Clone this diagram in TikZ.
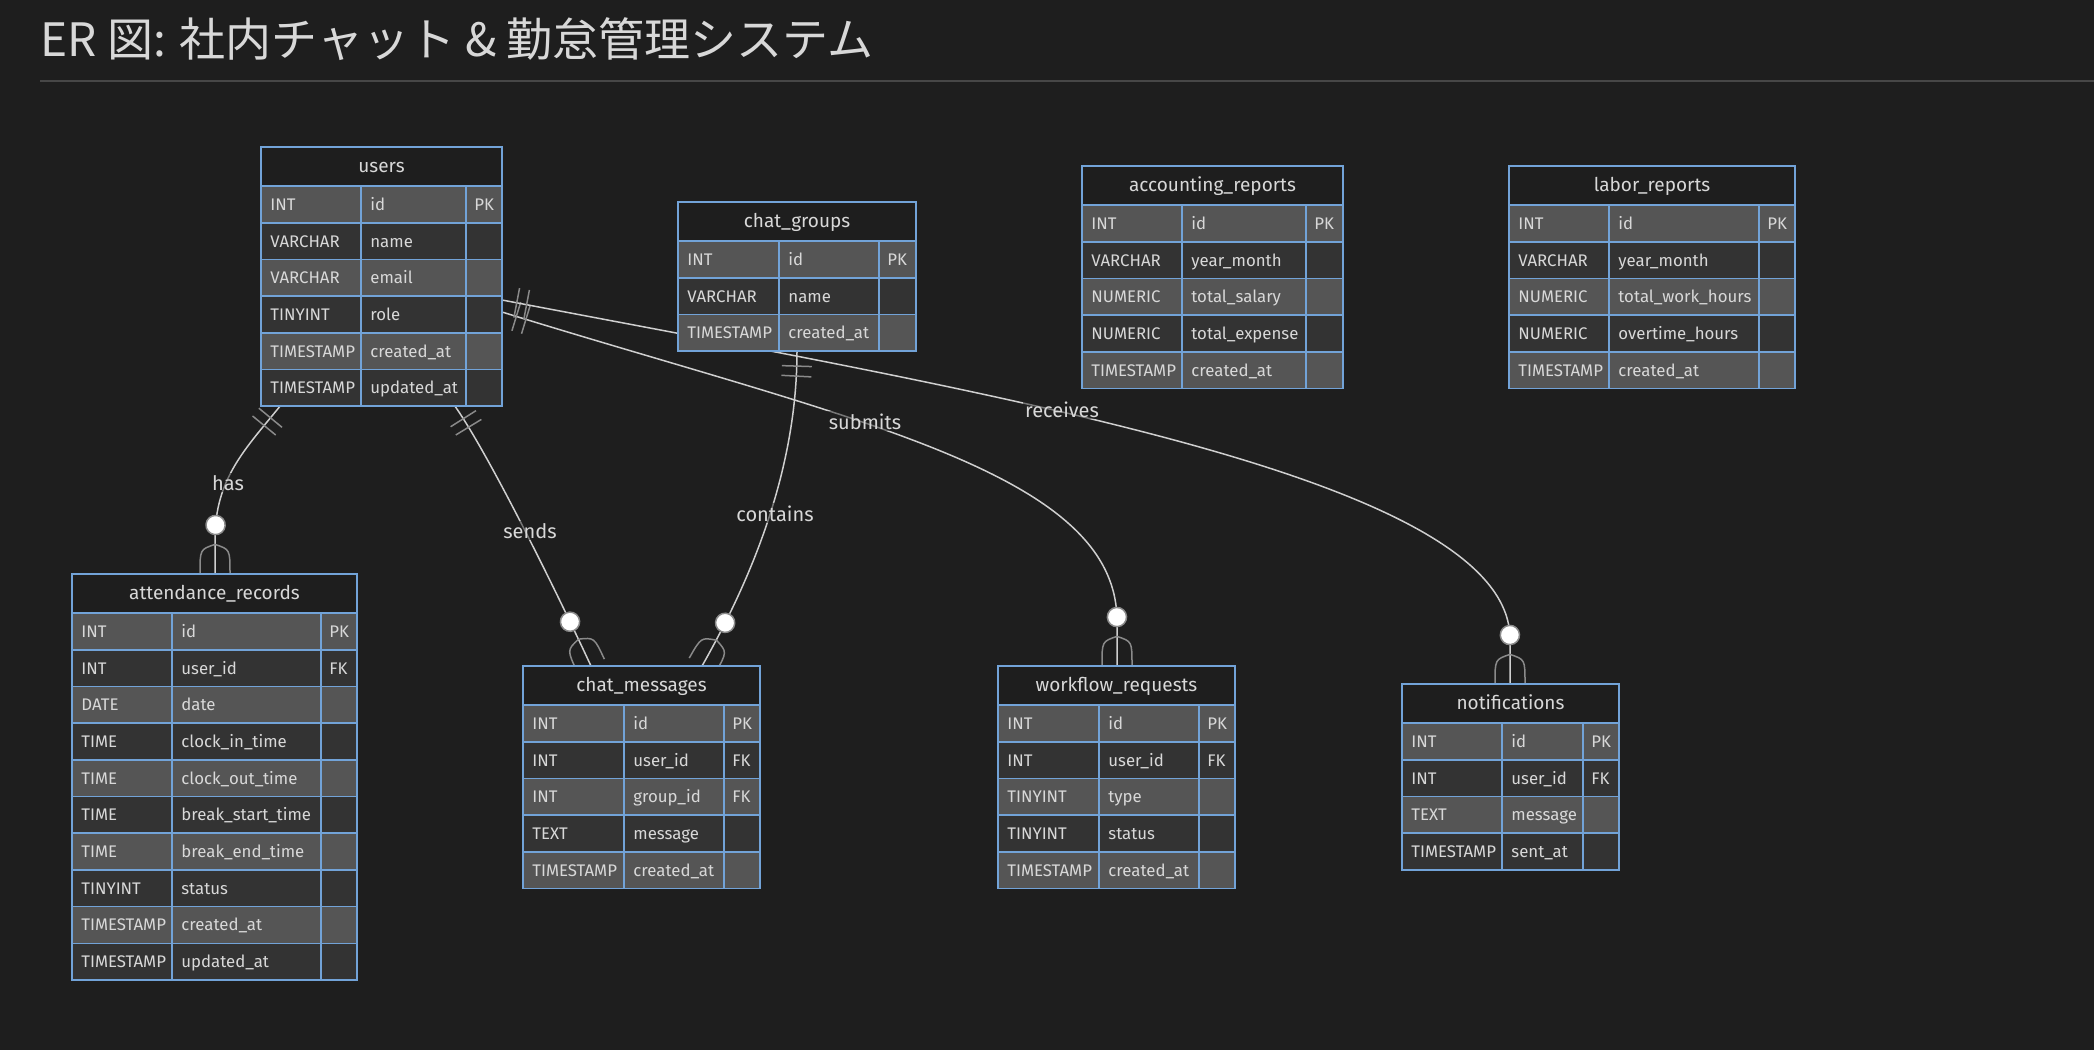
\documentclass[tikz,border=0pt]{standalone}
\usepackage{fontspec}
\setmainfont{Fira Sans}
\newfontfamily\jpfont{Noto Sans CJK JP}
\usetikzlibrary{decorations.markings,calc}
\definecolor{bgc}{HTML}{1E1E1E}
\definecolor{rowlight}{HTML}{555555}
\definecolor{rowdark}{HTML}{333333}
\definecolor{bordc}{HTML}{72A3D8}
\definecolor{txtc}{HTML}{D8D8D8}
\definecolor{linec}{HTML}{CFCFCF}
\definecolor{markc}{HTML}{8A8A8A}
\definecolor{rulec}{HTML}{474747}
\pgfdeclarelayer{back}
\pgfdeclarelayer{edges}
\pgfsetlayers{back,edges,main}
\newcount\cellno
\newcommand\settable[5]{\def\cx{#1}\def\ca{#2}\def\cb{#3}\def\cw{#4}\def\cy{#5}}
\newcommand\ertable[3]{%
  \node[tblbox, minimum width={(\cw-\cx)*0.5pt}, minimum height={(39+#2*36.7)*0.5pt}]
    (#1) at ({(\cx+\cw)/2},{\cy+(39+#2*36.7)/2}) {};
  \filldraw[hdr] (\cx,\cy) rectangle (\cw,\cy+39);
  \node[hdrtext] (#1-title) at ({(\cx+\cw)/2},\cy+25.5) {#3};
}
\newcommand\erow[4]{%
  \ifodd#1\relax\tikzset{rowcur/.style={rowA}}\else\tikzset{rowcur/.style={rowB}}\fi
  \filldraw[rowcur] (\cx,{\cy+39+(#1-1)*36.7}) rectangle (\ca,{\cy+39+#1*36.7});
  \filldraw[rowcur] (\ca,{\cy+39+(#1-1)*36.7}) rectangle (\cb,{\cy+39+#1*36.7});
  \filldraw[rowcur] (\cb,{\cy+39+(#1-1)*36.7}) rectangle (\cw,{\cy+39+#1*36.7});
  \global\advance\cellno by 1
  \node[celltext] (t\the\cellno) at (\cx+9,{\cy+39+(#1-1)*36.7+24.3}) {#2};
  \node[celltext] (n\the\cellno) at (\ca+9,{\cy+39+(#1-1)*36.7+24.3}) {#3};
  \node[celltext] (k\the\cellno) at (\cb+8,{\cy+39+(#1-1)*36.7+24.3}) {#4};
}
\begin{document}
\begin{tikzpicture}[x=0.5pt,y=-0.5pt,
  rowA/.style={fill=rowlight, draw=bordc, line width=0.8pt},
  rowB/.style={fill=rowdark, draw=bordc, line width=0.8pt},
  hdr/.style={fill=bgc, draw=bordc, line width=0.8pt},
  tblbox/.style={rectangle, draw=none, inner sep=0pt, outer sep=0pt},
  celltext/.style={anchor=base west, inner sep=0pt, text=txtc, font=\fontsize{8.4}{10}\selectfont},
  hdrtext/.style={anchor=base, inner sep=0pt, text=txtc, font=\fontsize{9.5}{11}\selectfont},
  lbl/.style={anchor=base, inner sep=1pt, text=txtc, fill=bgc, fill opacity=0.5, text opacity=1, font=\fontsize{10}{12}\selectfont},
  rel/.style={draw=linec, line width=0.75pt},
  mk/.style={draw=markc, line width=0.75pt},
  circ/.style={fill=white, draw=markc, line width=0.75pt},
  oneone/.style={postaction={decorate, decoration={markings,
     mark=at position 7.5pt with {\draw[mk] (0,-15) -- (0,15);},
     mark=at position 12.5pt with {\draw[mk] (0,-15) -- (0,15);}}}},
  zeromany/.style={postaction={decorate, decoration={markings,
     mark=at position -24.5pt with {\filldraw[circ] (0,0) circle[radius=4.8pt];},
     mark=at position -0.3pt with {\draw[mk] (-29,0) .. controls (-24,15) .. (0,15);
       \draw[mk] (-29,0) .. controls (-24,-15) .. (0,-15);}}}}
]
\begin{pgfonlayer}{back}
\fill[bgc] (0,0) rectangle (2094,1050);
\end{pgfonlayer}
\useasboundingbox (0,0) rectangle (2094,1050);

% title
\node[anchor=base west, inner sep=0pt, text=txtc, font=\jpfont\fontsize{23}{28}\selectfont] (title) at (40,56) {ER 図: 社内チャット \& 勤怠管理システム};
\draw[rulec, line width=1pt] (40,81) -- (2094,81);

% users
\settable{261}{361}{466}{502}{147}
\ertable{users}{6}{users}
\erow{1}{INT}{id}{PK}
\erow{2}{VARCHAR}{name}{}
\erow{3}{VARCHAR}{email}{}
\erow{4}{TINYINT}{role}{}
\erow{5}{TIMESTAMP}{created\_at}{}
\erow{6}{TIMESTAMP}{updated\_at}{}

% chat_groups
\settable{678}{779}{879}{916}{202}
\ertable{chatgroups}{3}{chat\_groups}
\erow{1}{INT}{id}{PK}
\erow{2}{VARCHAR}{name}{}
\erow{3}{TIMESTAMP}{created\_at}{}

% accounting_reports
\settable{1082}{1182}{1306}{1343}{166}
\ertable{accounting}{5}{accounting\_reports}
\erow{1}{INT}{id}{PK}
\erow{2}{VARCHAR}{year\_month}{}
\erow{3}{NUMERIC}{total\_salary}{}
\erow{4}{NUMERIC}{total\_expense}{}
\erow{5}{TIMESTAMP}{created\_at}{}

% labor_reports
\settable{1509}{1609}{1759}{1795}{166}
\ertable{labor}{5}{labor\_reports}
\erow{1}{INT}{id}{PK}
\erow{2}{VARCHAR}{year\_month}{}
\erow{3}{NUMERIC}{total\_work\_hours}{}
\erow{4}{NUMERIC}{overtime\_hours}{}
\erow{5}{TIMESTAMP}{created\_at}{}

% attendance_records
\settable{72}{172}{321}{357}{574}
\ertable{attendance}{10}{attendance\_records}
\erow{1}{INT}{id}{PK}
\erow{2}{INT}{user\_id}{FK}
\erow{3}{DATE}{date}{}
\erow{4}{TIME}{clock\_in\_time}{}
\erow{5}{TIME}{clock\_out\_time}{}
\erow{6}{TIME}{break\_start\_time}{}
\erow{7}{TIME}{break\_end\_time}{}
\erow{8}{TINYINT}{status}{}
\erow{9}{TIMESTAMP}{created\_at}{}
\erow{10}{TIMESTAMP}{updated\_at}{}

% chat_messages
\settable{523}{624}{724}{760}{666}
\ertable{chatmsg}{5}{chat\_messages}
\erow{1}{INT}{id}{PK}
\erow{2}{INT}{user\_id}{FK}
\erow{3}{INT}{group\_id}{FK}
\erow{4}{TEXT}{message}{}
\erow{5}{TIMESTAMP}{created\_at}{}

% workflow_requests
\settable{998}{1099}{1199}{1235}{666}
\ertable{workflow}{5}{workflow\_requests}
\erow{1}{INT}{id}{PK}
\erow{2}{INT}{user\_id}{FK}
\erow{3}{TINYINT}{type}{}
\erow{4}{TINYINT}{status}{}
\erow{5}{TIMESTAMP}{created\_at}{}

% notifications
\settable{1402}{1502}{1583}{1619}{684}
\ertable{notif}{4}{notifications}
\erow{1}{INT}{id}{PK}
\erow{2}{INT}{user\_id}{FK}
\erow{3}{TEXT}{message}{}
\erow{4}{TIMESTAMP}{sent\_at}{}

% relationships
\begin{pgfonlayer}{edges}
\draw[rel, oneone, zeromany] ($(users.south west)+(19,0)$) .. controls +(-35,43) and +(0,-60) .. ($(attendance.north west)+(143,-35)$) -- ($(attendance.north west)+(143,0)$);
\draw[rel, oneone, zeromany] ($(users.south west)+(194,0)$) .. controls +(35,50) and +(-33,-71) .. ($(chatmsg.north west)+(68,0)$);
\draw[rel, oneone, zeromany] ($(chatgroups.south west)+(119,0)$) .. controls +(0,118) and +(50,-88) .. ($(chatmsg.north west)+(179,0)$);
\draw[rel, oneone, zeromany] ($(users.north east)+(0,165)$) .. controls +(348,108) and +(0,-150) .. ($(workflow.north west)+(119,-45)$) -- ($(workflow.north west)+(119,0)$);
\draw[rel, oneone, zeromany] ($(users.north east)+(0,153)$) .. controls +(498,95) and +(0,-160) .. ($(notif.north west)+(108,-45)$) -- ($(notif.north west)+(108,0)$);
\end{pgfonlayer}

\node[lbl] (l-has) at (228,490) {has};
\node[lbl] (l-sends) at (530,538) {sends};
\node[lbl] (l-contains) at (775,521) {contains};
\node[lbl] (l-submits) at (865,429) {submits};
\node[lbl] (l-receives) at (1062,417) {receives};
\end{tikzpicture}
\end{document}
